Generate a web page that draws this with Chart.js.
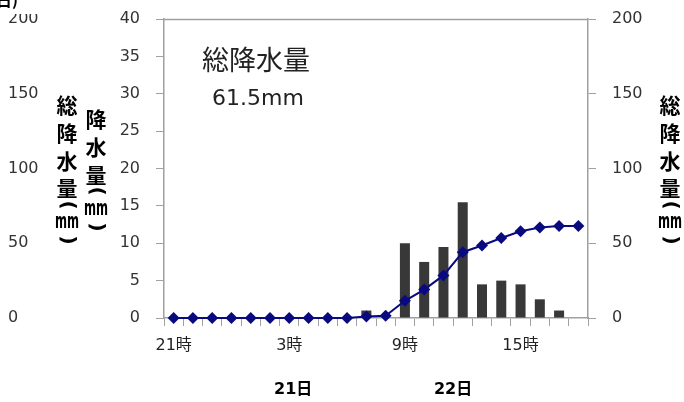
<!DOCTYPE html>
<html>
<head>
<meta charset="utf-8">
<script src="https://cdn.jsdelivr.net/npm/chart.js@4"></script>
<style>
  body { margin: 0; background: #fff; }
  canvas { display: block; }
</style>
</head>
<body>
<canvas id="rainChart" width="684" height="402"></canvas>
<script>
// hourly labels, 21時 (20日) to 18時 (22日)
const hours = ['21時','22時','23時','0時','1時','2時','3時','4時','5時','6時','7時','8時',
               '9時','10時','11時','12時','13時','14時','15時','16時','17時','18時'];
// hourly rainfall (mm)
const hourlyRain = [0,0,0,0,0,0,0,0,0,0,1,0,10,7.5,9.5,15.5,4.5,5,4.5,2.5,1,0];
// accumulated rainfall (mm)
const totalRain = [0,0,0,0,0,0,0,0,0,0,1,1.5,11.5,19,28.5,44,48.5,53.5,58,60.5,61.5,61.5];
const rainTicks = [0,5,10,15,20,25,30,35,40];
const totalTicks = [0,50,100,150,200];
const dayLabels = [['21日', 6.2], ['22日', 14.5]];
const totalText = ['総降水量', '61.5mm'];

const gray = '#a0a0a0';
const tickFont = { family: 'DejaVu Sans, Noto Sans CJK JP', size: 16 };

// vertical (stacked) axis titles: char + y centre
const titleOuter = [['総',105],['降',133],['水',161],['量',188],['(',205],['mm',223],[')',240]];
const titleInner = [['降',119],['水',147],['量',175],['(',191],['mm',210],[')',227]];

function drawStacked(ctx, list, x) {
  list.forEach(([c, y]) => {
    ctx.save();
    ctx.translate(x, y);
    if (c === '(' || c === ')') {
      ctx.rotate(Math.PI / 2);
      ctx.font = 'bold 20px DejaVu Sans';
      ctx.fillText(c, 0, 0);
    } else if (c === 'mm') {
      ctx.scale(0.55, 1);
      ctx.font = 'bold 21px DejaVu Sans';
      ctx.fillText(c, 0, 0);
    } else {
      ctx.font = 'bold 21px Noto Sans CJK JP';
      ctx.fillText(c, 0, 0);
    }
    ctx.restore();
  });
}

// fixed axis box sizes, no label overhang
function fixY(width) {
  return s => {
    s.width = width;
    s.paddingTop = 0;
    s.paddingBottom = 0;
  };
}

const extras = {
  id: 'extras',
  afterDraw(chart) {
    const ctx = chart.ctx;
    const a = chart.chartArea;
    const step = (a.right - a.left) / hours.length;
    ctx.save();
    // top border of plot
    ctx.strokeStyle = gray;
    ctx.lineWidth = 1.5;
    ctx.beginPath();
    ctx.moveTo(a.left, a.top + 0.5);
    ctx.lineTo(a.right, a.top + 0.5);
    ctx.stroke();

    // cropped title remnant at top left
    ctx.fillStyle = '#fff';
    ctx.fillRect(0, 0, 50, 14);
    ctx.fillStyle = '#000';
    ctx.font = 'bold 16px Noto Sans CJK JP';
    ctx.textBaseline = 'alphabetic';
    ctx.textAlign = 'left';
    ctx.fillText('日)', -4, 6);

    // vertical titles
    ctx.textAlign = 'center';
    ctx.textBaseline = 'middle';
    drawStacked(ctx, titleOuter, 67);
    drawStacked(ctx, titleOuter, 670);
    drawStacked(ctx, titleInner, 96);

    // day labels under the hour labels
    ctx.font = 'bold 16px DejaVu Sans, Noto Sans CJK JP';
    dayLabels.forEach(([t, v]) => {
      ctx.fillText(t, a.left + (v + 0.5) * step, 390);
    });

    // total rainfall note
    ctx.textAlign = 'left';
    ctx.fillStyle = '#222';
    ctx.font = '27px Noto Sans CJK JP';
    ctx.fillText(totalText[0], a.left + 38, a.top + 41);
    ctx.font = '22px DejaVu Sans';
    ctx.fillText(totalText[1], a.left + 48, a.top + 80);
    ctx.restore();
  }
};

new Chart(document.getElementById('rainChart'), {
  type: 'bar',
  data: {
    labels: hours,
    datasets: [{
      type: 'line',
      label: '総降水量',
      data: totalRain,
      yAxisID: 'yRight',
      borderColor: '#0a0a80',
      backgroundColor: '#0a0a80',
      borderWidth: 2,
      pointStyle: 'rectRot',
      pointRadius: 6,
      pointBorderWidth: 0,
      tension: 0,
      clip: false,
      order: 0
    }, {
      label: '降水量',
      data: hourlyRain,
      yAxisID: 'yRain',
      backgroundColor: '#383838',
      borderWidth: 0,
      barPercentage: 0.52,
      categoryPercentage: 1,
      order: 1
    }]
  },
  options: {
    responsive: false,
    animation: false,
    layout: { padding: { left: 8, top: 19, right: 0, bottom: 0 } },
    plugins: { legend: { display: false }, tooltip: { enabled: false } },
    scales: {
      x: {
        grid: { display: true, drawOnChartArea: false, drawTicks: true, tickLength: 8, color: gray, offset: true },
        border: { color: gray, width: 1.5 },
        ticks: {
          autoSkip: false, maxRotation: 0, padding: 10, color: '#222', font: tickFont,
          callback: (v, i) => (i % 6 === 0 ? hours[i] : '')
        },
        afterFit: s => { s.height = 84; s.paddingLeft = 0; s.paddingRight = 0; }
      },
      yOuter: {
        position: 'left',
        weight: 1,
        min: 0, max: 200,
        grid: { display: false },
        border: { display: false },
        afterBuildTicks: s => { s.ticks = totalTicks.map(v => ({ value: v })); },
        ticks: { crossAlign: 'far', color: '#333', font: tickFont, padding: 0 },
        afterFit: fixY(72)
      },
      yRain: {
        position: 'left',
        weight: 0,
        min: 0, max: 40,
        grid: { display: true, drawOnChartArea: false, drawTicks: true, tickLength: 8, color: gray },
        border: { color: gray, width: 1.5 },
        afterBuildTicks: s => { s.ticks = rainTicks.map(v => ({ value: v })); },
        ticks: { color: '#333', font: tickFont, padding: 16 },
        afterFit: fixY(84)
      },
      yRight: {
        position: 'right',
        min: 0, max: 200,
        grid: { display: true, drawOnChartArea: false, drawTicks: true, tickLength: 8, color: gray },
        border: { color: gray, width: 1.5 },
        afterBuildTicks: s => { s.ticks = totalTicks.map(v => ({ value: v })); },
        ticks: { color: '#333', font: tickFont, padding: 16 },
        afterFit: fixY(96)
      }
    }
  },
  plugins: [extras]
});
</script>
</body>
</html>
